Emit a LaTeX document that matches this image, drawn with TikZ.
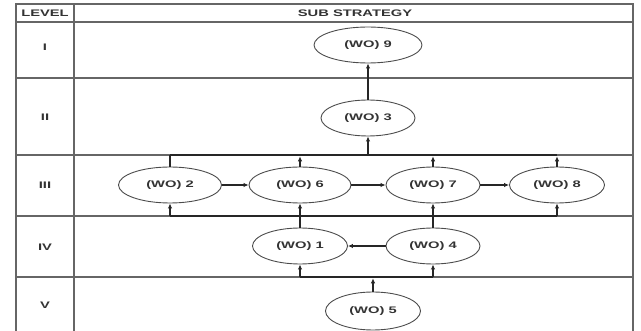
\documentclass[tikz,border=0pt]{standalone}
\usepackage{fontspec}
\usepackage{graphicx}
\setmainfont{Liberation Sans}
\usetikzlibrary{arrows.meta,shapes.geometric}
\newcommand{\wide}[1]{\scalebox{1.55}[1]{\bfseries #1}}
\begin{document}
\begin{tikzpicture}[x=1pt,y=-1pt,
  grid/.style={draw=black!60, line width=1.2pt},
  wo/.style={ellipse, draw=black!70, line width=0.9pt, minimum width=95pt, minimum height=36pt, inner sep=0pt, font=\fontsize{9.5}{10}\selectfont, text=black!80},
  bus/.style={draw=black!85, line width=2.6pt},
  ln/.style={draw=black!85, line width=1.2pt},
  arr/.style={ln, -{Latex[length=5pt,width=4.5pt]}},
  lab/.style={font=\fontsize{9.5}{10}\selectfont, inner sep=0pt, text=black!80}]
\useasboundingbox (0,0) rectangle (641,331);
% table
\draw[grid] (16,331) -- (16,4) -- (633,4) -- (633,331);
\draw[grid] (74,4) -- (74,331);
\foreach \yy in {22,78,155,216,277} \draw[grid] (16,\yy) -- (633,\yy);
\node[lab] (hl) at (45,13) {\wide{LEVEL}};
\node[lab] (hs) at (355,13) {\wide{SUB STRATEGY}};
\node[lab] (l1) at (45,47) {\wide{I}};
\node[lab] (l2) at (45,117) {\wide{II}};
\node[lab] (l3) at (45,185) {\wide{III}};
\node[lab] (l4) at (45,247) {\wide{IV}};
\node[lab] (l5) at (45,305) {\wide{V}};
% nodes
\node[wo, minimum width=108pt] (w9) at (368,45) {\wide{(WO) 9}};
\node[wo, minimum width=94pt] (w3) at (368,118) {\wide{(WO) 3}};
\node[wo, minimum width=103pt] (w2) at (170,185) {\wide{(WO) 2}};
\node[wo, minimum width=102pt] (w6) at (300,185) {\wide{(WO) 6}};
\node[wo, minimum width=94pt] (w7) at (433,185) {\wide{(WO) 7}};
\node[wo, minimum width=95pt] (w8) at (557,185) {\wide{(WO) 8}};
\node[wo, minimum width=95pt] (w1) at (300,246) {\wide{(WO) 1}};
\node[wo, minimum width=94pt] (w4) at (433,246) {\wide{(WO) 4}};
\node[wo, minimum width=95pt, minimum height=38pt] (w5) at (373,311) {\wide{(WO) 5}};
\coordinate (tb) at (0,155);
\coordinate (bb) at (0,216);
\coordinate (vb) at (0,277);
% top bus
\draw[ln] (w2.north) -- (w2.north |- tb);
\draw[arr, shorten >=1.3pt] (w6.north) -- (w6.north |- tb);
\draw[arr, shorten >=1.3pt] (w7.north) -- (w7.north |- tb);
\draw[arr, shorten >=1.3pt] (w8.north) -- (w8.north |- tb);
\draw[bus] (w2.north |- tb) -- (w8.north |- tb);
\draw[arr] (w3.south |- tb) -- (w3.south);
\draw[arr] (w3.north) -- (w9.south);
% row III
\draw[arr] (w2.east) -- (w6.west);
\draw[arr] (w6.east) -- (w7.west);
\draw[arr] (w7.east) -- (w8.west);
% bottom bus
\draw[ln] (w1.north) -- (w1.north |- bb);
\draw[ln] (w4.north) -- (w4.north |- bb);
\draw[bus] (w2.south |- bb) -- (w8.south |- bb);
\draw[arr] (w2.south |- bb) -- (w2.south);
\draw[arr] (w6.south |- bb) -- (w6.south);
\draw[arr] (w7.south |- bb) -- (w7.south);
\draw[arr] (w8.south |- bb) -- (w8.south);
% row IV
\draw[arr] (w4.west) -- (w1.east);
% IV/V bus
\draw[arr, shorten >=1.3pt] (w5.north) -- (w5.north |- vb);
\draw[bus] (w1.south |- vb) -- (w4.south |- vb);
\draw[arr] (w1.south |- vb) -- (w1.south);
\draw[arr] (w4.south |- vb) -- (w4.south);
\end{tikzpicture}
\end{document}
